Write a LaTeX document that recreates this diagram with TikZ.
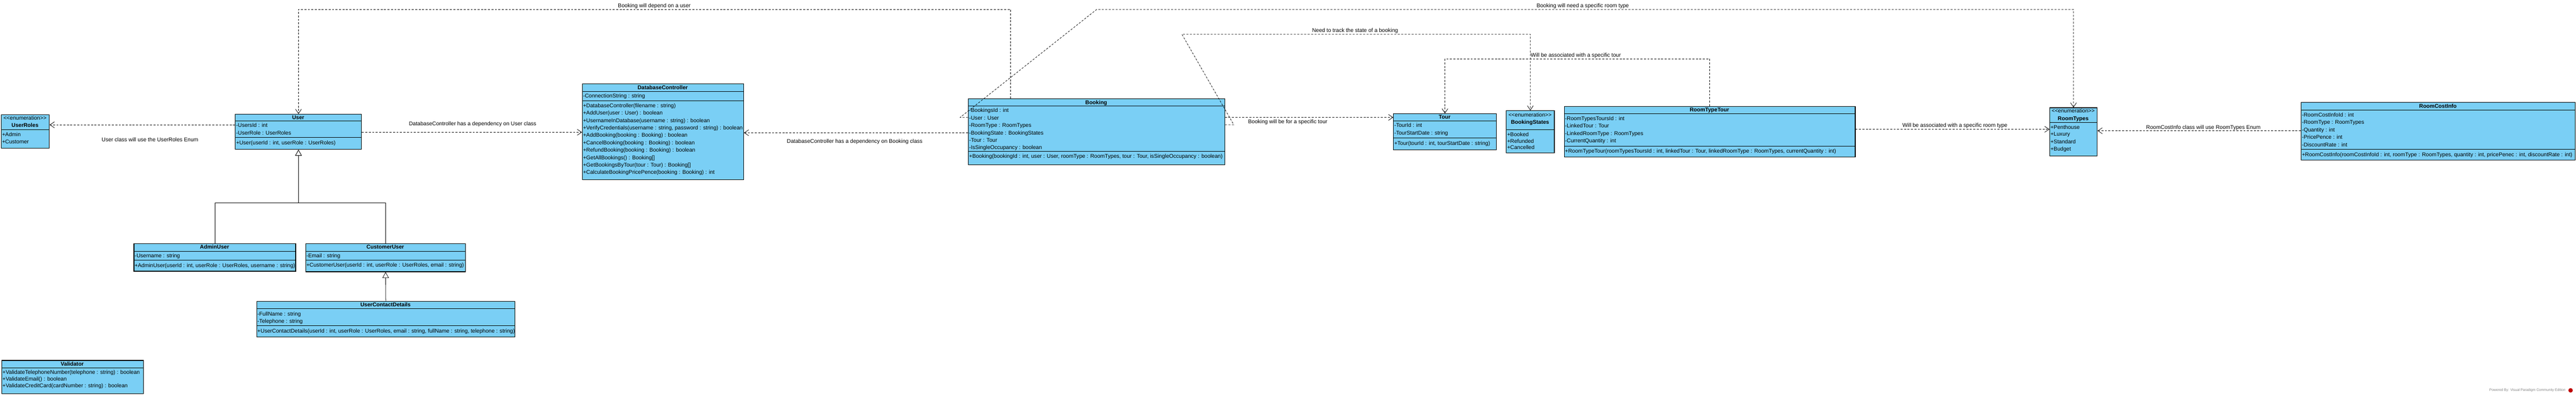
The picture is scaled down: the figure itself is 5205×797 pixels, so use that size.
\documentclass[tikz,border=0pt]{standalone}
\usepackage{fontspec}
\setmainfont{Liberation Sans}
\usetikzlibrary{arrows.meta}
\definecolor{vpblue}{RGB}{122,207,245}
\newcommand\vpf{\fontsize{11}{13}\selectfont}
\newcommand\enumtag{<\kern0pt<enumeration>\kern0pt>}
\tikzset{
  cls/.style={draw, fill=vpblue, line width=1.2pt, inner sep=0pt, anchor=north west},
  sepl/.style={line width=1pt},
  crow/.style={anchor=west, inner sep=0pt, font=\vpf, text height=8.5pt, text depth=1pt},
  ctitle/.style={anchor=center, inner sep=0pt, font=\vpf\bfseries, text height=8.5pt, text depth=1pt},
  cster/.style={anchor=center, inner sep=0pt, font=\vpf, text height=8.5pt, text depth=1pt},
  lbl/.style={anchor=center, inner sep=0pt, font=\vpf, text height=8.5pt, text depth=1pt},
  dep/.style={line width=0.8pt, dash pattern=on 4pt off 3pt, -{Straight Barb[length=9pt,width=12pt]}},
  gen/.style={line width=0.8pt, -{Triangle[length=12pt,width=13pt,fill=white]}}
}
\newcommand\clsbox[5]{\node[cls, minimum width=#4pt, minimum height=#5pt] (#1) at (#2,#3) {};}
\newcommand\csep[2]{\draw[sepl] (#1.west |- 0,#2) -- (#1.east |- 0,#2);}
\newcommand\crow[4]{\node[crow] (#1) at (#2,#3) {#4};}
\newcommand\ctitle[4]{\node[ctitle] (#1) at (#2,#3) {#4};}
\newcommand\cster[4]{\node[cster] (#1) at (#2,#3) {#4};}
\begin{document}
\begin{tikzpicture}[x=1pt,y=-1pt]
\useasboundingbox[fill=white] (0,0) rectangle (5205,797);

% ---------- UserRoles
\clsbox{userroles}{2}{231}{97}{68}
\cster{ur0}{50.5}{238}{\enumtag}
\ctitle{ur1}{50.5}{253}{UserRoles}
\csep{userroles}{262}
\crow{ur2}{4}{272}{+Admin}
\crow{ur3}{4}{286}{+Customer}

% ---------- User
\clsbox{user}{475}{230}{255}{71}
\ctitle{us0}{602.5}{237}{User}
\csep{user}{244}
\crow{us1}{477}{253}{-UsersId : int}
\crow{us2}{477}{268}{-UserRole : UserRoles}
\csep{user}{277}
\crow{us3}{477}{288}{+User(userId : int, userRole : UserRoles)}

% ---------- DatabaseController
\clsbox{dbc}{1176}{169}{326}{193}
\ctitle{db0}{1339}{177}{DatabaseController}
\csep{dbc}{185}
\crow{db1}{1178}{194}{-ConnectionString : string}
\csep{dbc}{203}
\crow{db2}{1178}{213}{+DatabaseController(filename : string)}
\crow{db3}{1178}{228}{+AddUser(user : User) : boolean}
\crow{db4}{1178}{243}{+UsernameInDatabase(username : string) : boolean}
\crow{db5}{1178}{258}{+VerifyCredentials(username : string, password : string) : boolean}
\crow{db6}{1178}{273}{+AddBooking(booking : Booking) : boolean}
\crow{db7}{1178}{288}{+CancelBooking(booking : Booking) : boolean}
\crow{db8}{1178}{303}{+RefundBooking(booking : Booking) : boolean}
\crow{db9}{1178}{318}{+GetAllBookings() : Booking[]}
\crow{db10}{1178}{333}{+GetBookingsByTour(tour : Tour) : Booking[]}
\crow{db11}{1178}{348}{+CalculateBookingPricePence(booking : Booking) : int}

% ---------- Booking
\clsbox{booking}{1956}{199}{518}{133}
\ctitle{bk0}{2215}{207}{Booking}
\csep{booking}{214}
\crow{bk1}{1958}{223}{-BookingsId : int}
\crow{bk2}{1958}{238}{-User : User}
\crow{bk3}{1958}{253}{-RoomType : RoomTypes}
\crow{bk4}{1958}{268}{-BookingState : BookingStates}
\crow{bk5}{1958}{283}{-Tour : Tour}
\crow{bk6}{1958}{298}{-IsSingleOccupancy : boolean}
\csep{booking}{306}
\crow{bk7}{1958}{315}{+Booking(bookingId : int, user : User, roomType : RoomTypes, tour : Tour, isSingleOccupancy : boolean)}

% ---------- Tour
\clsbox{tour}{2815}{229}{208}{73}
\ctitle{to0}{2919}{236}{Tour}
\csep{tour}{244}
\crow{to1}{2817}{253}{-TourId : int}
\crow{to2}{2817}{268}{-TourStartDate : string}
\csep{tour}{278}
\crow{to3}{2817}{289}{+Tour(tourId : int, tourStartDate : string)}

% ---------- BookingStates
\clsbox{bookingstates}{3043}{223}{97}{85}
\cster{bs0}{3091.5}{232}{\enumtag}
\ctitle{bs1}{3091.5}{247}{BookingStates}
\csep{bookingstates}{262}
\crow{bs2}{3045}{272}{+Booked}
\crow{bs3}{3045}{285}{+Refunded}
\crow{bs4}{3045}{298}{+Cancelled}

% ---------- RoomTypeTour
\clsbox{rtt}{3160}{214}{588}{102}
\ctitle{rt0}{3454}{222}{RoomTypeTour}
\csep{rtt}{229}
\crow{rt1}{3162}{239}{-RoomTypesToursId : int}
\crow{rt2}{3162}{254}{-LinkedTour : Tour}
\crow{rt3}{3162}{269}{-LinkedRoomType : RoomTypes}
\crow{rt4}{3162}{284}{-CurrentQuantity : int}
\csep{rtt}{295}
\crow{rt5}{3162}{305}{+RoomTypeTour(roomTypesToursId : int, linkedTour : Tour, linkedRoomType : RoomTypes, currentQuantity : int)}

% ---------- RoomTypes
\clsbox{roomtypes}{4141}{217}{96}{97}
\cster{rm0}{4189}{224}{\enumtag}
\ctitle{rm1}{4189}{239}{RoomTypes}
\csep{roomtypes}{247}
\crow{rm2}{4143}{257}{+Penthouse}
\crow{rm3}{4143}{271}{+Luxury}
\crow{rm4}{4143}{286}{+Standard}
\crow{rm5}{4143}{301}{+Budget}

% ---------- RoomCostInfo
\clsbox{rci}{4649}{206}{554}{117}
\ctitle{rc0}{4926}{214}{RoomCostInfo}
\csep{rci}{222}
\crow{rc1}{4651}{232}{-RoomCostInfoId : int}
\crow{rc2}{4651}{247}{-RoomType : RoomTypes}
\crow{rc3}{4651}{262}{-Quantity : int}
\crow{rc4}{4651}{277}{-PricePence : int}
\crow{rc5}{4651}{292}{-DiscountRate : int}
\csep{rci}{301}
\crow{rc6}{4651}{312}{+RoomCostInfo(roomCostInfoId : int, roomType : RoomTypes, quantity : int, pricePenec : int, discountRate : int)}

% ---------- AdminUser
\clsbox{admin}{270}{491}{327}{56}
\ctitle{ad0}{433.5}{499}{AdminUser}
\csep{admin}{507}
\crow{ad1}{272}{516}{-Username : string}
\csep{admin}{525}
\crow{ad2}{272}{536}{+AdminUser(userId : int, userRole : UserRoles, username : string)}

% ---------- CustomerUser
\clsbox{customer}{617}{491}{323}{57}
\ctitle{cu0}{778.5}{499}{CustomerUser}
\csep{customer}{507}
\crow{cu1}{619}{516}{-Email : string}
\csep{customer}{525}
\crow{cu2}{619}{535}{+CustomerUser(userId : int, userRole : UserRoles, email : string)}

% ---------- UserContactDetails
\clsbox{ucd}{518}{608}{522}{72}
\ctitle{uc0}{779}{615}{UserContactDetails}
\csep{ucd}{623}
\crow{uc1}{520}{634}{-FullName : string}
\crow{uc2}{520}{648}{-Telephone : string}
\csep{ucd}{657}
\crow{uc3}{520}{668}{+UserContactDetails(userId : int, userRole : UserRoles, email : string, fullName : string, telephone : string)}

% ---------- Validator
\clsbox{validator}{3}{727}{286}{67}
\ctitle{va0}{146}{735}{Validator}
\csep{validator}{743}
\crow{va1}{5}{751}{+ValidateTelephoneNumber(telephone : string) : boolean}
\crow{va2}{5}{765}{+ValidateEmail() : boolean}
\crow{va3}{5}{779}{+ValidateCreditCard(cardNumber : string) : boolean}

% ---------- helper coordinates
\coordinate (d1) at (2042,19);
\coordinate (e1) at (1940,237);
\coordinate (e2) at (2216,19);
\coordinate (f1) at (2493,252);
\coordinate (f2) at (2388,69);
\coordinate (h1) at (0,119);
\coordinate (g1) at (0,410);

% ---------- connectors
\draw[dep] (user.west |- 0,252) -- (userroles.east |- 0,252);
\draw[dep] (user.east |- 0,267) -- (dbc.west |- 0,267);
\draw[dep] (booking.west |- 0,268) -- (dbc.east |- 0,268);
\draw[dep] (booking.north -| d1) |- (user.north |- d1) -- (user.north);
\draw[dep] (booking.west |- e1) -- (e1) -- (e2) -| (roomtypes.north);
\draw[dep] (booking.east |- f1) -- (f1) -- (f2) -| (bookingstates.north);
\draw[dep] (booking.east |- 0,237) -- (tour.west |- 0,237);
\draw[dep] (rtt.north) |- (tour.north |- h1) -- (tour.north);
\draw[dep] (rtt.east |- 0,261) -- (roomtypes.west |- 0,261);
\draw[dep] (rci.west |- 0,264) -- (roomtypes.east |- 0,264);
\draw[gen] (admin.north) |- (user.south |- g1) -- (user.south);
\draw[gen] (customer.north) |- (user.south |- g1) -- (user.south);
\draw[gen] (ucd.north) -- (customer.south);

% ---------- connector labels
\node[lbl] (l1) at (303,282) {User class will use the UserRoles Enum};
\node[lbl] (l2) at (955,250) {DatabaseController has a dependency on User class};
\node[lbl] (l3) at (1727,285) {DatabaseController has a dependency on Booking class};
\node[lbl] (l4) at (1322,11) {Booking will depend on a user};
\node[lbl] (l5) at (3198,11) {Booking will need a specific room type};
\node[lbl] (l6) at (2738,61) {Need to track the state of a booking};
\node[lbl] (l7) at (3184,111) {Will be associated with a specific tour};
\node[lbl] (l8) at (2602,246) {Booking will be for a specific tour};
\node[lbl] (l9) at (3950,253) {Will be associated with a specific room type};
\node[lbl] (l10) at (4452,257) {RoomCostInfo class will use RoomTypes Enum};

% ---------- footer
\node[anchor=east, inner sep=0pt, font=\fontsize{7}{8}\selectfont, text=gray] (pb) at (5184,788) {Powered By: Visual Paradigm Community Edition};
\node[circle, fill=red!75!black, minimum size=9pt, inner sep=0pt] (vplogo) at (5194,788) {};
\end{tikzpicture}
\end{document}
